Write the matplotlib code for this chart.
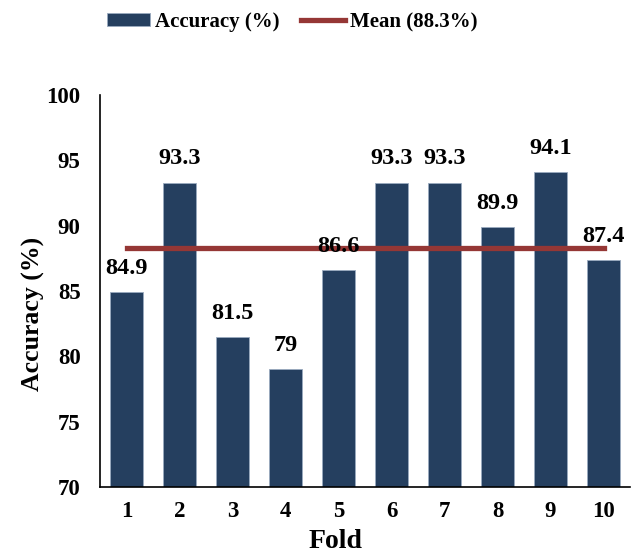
import matplotlib
matplotlib.use("Agg")
import matplotlib.pyplot as plt
import numpy as np

# per-fold accuracy
folds = ["1", "2", "3", "4", "5", "6", "7", "8", "9", "10"]
accuracy = [84.9, 93.3, 81.5, 79, 86.6, 93.3, 93.3, 89.9, 94.1, 87.4]
mean_acc = 88.3

plt.rcParams['font.family'] = ['Liberation Serif', 'DejaVu Serif']
plt.rcParams['font.weight'] = 'bold'

BAR_COL = '#253f5f'
MEAN_COL = '#953735'

fig = plt.figure(figsize=(6.33, 5.54), dpi=100)
ax = fig.add_axes([100/633, 1 - 487/554, 530/633, 392/554])

x = np.arange(len(folds))
bars = ax.bar(x, accuracy, width=0.62, color=BAR_COL, edgecolor='#9aaabf',
              linewidth=0.6, label='Accuracy (%)', zorder=2)
mline, = ax.plot([x[0], x[-1]], [mean_acc, mean_acc], color=MEAN_COL,
                 linewidth=3.8, label=f'Mean ({mean_acc}%)', zorder=3)

for xi, v in zip(x, accuracy):
    ax.text(xi, v + 1.0, f"{v:g}", ha='center', va='bottom', fontsize=17.5,
            fontweight='bold')

ax.set_xlim(-0.5, len(folds) - 0.5)
ax.set_ylim(70, 100)
ax.set_yticks(range(70, 101, 5))
ax.set_xticks(x)
ax.set_xticklabels(folds)
ax.tick_params(axis='both', length=0, labelsize=16.5)
ax.tick_params(axis='y', pad=14)
ax.tick_params(axis='x', pad=10)
for t in ax.get_xticklabels() + ax.get_yticklabels():
    t.set_fontweight('bold')

for s in ['top', 'right']:
    ax.spines[s].set_visible(False)
ax.spines['left'].set_linewidth(1.2)
ax.spines['bottom'].set_linewidth(1.2)

ax.set_ylabel('Accuracy (%)', fontsize=18.5, fontweight='bold', va='center')
ax.yaxis.set_label_coords(-0.126, 0.441)
ax.set_xlabel('Fold', fontsize=20, fontweight='bold', va='bottom')
ax.xaxis.set_label_coords(0.445, -0.171)

fig.legend(handles=[bars, mline], loc='center',
           bbox_to_anchor=(292/633, 1 - 22/554), ncol=2, frameon=False,
           fontsize=15, handlelength=2.07, handleheight=0.63,
           columnspacing=1.05, handletextpad=0.25)

fig.savefig('out.png', dpi=100)
